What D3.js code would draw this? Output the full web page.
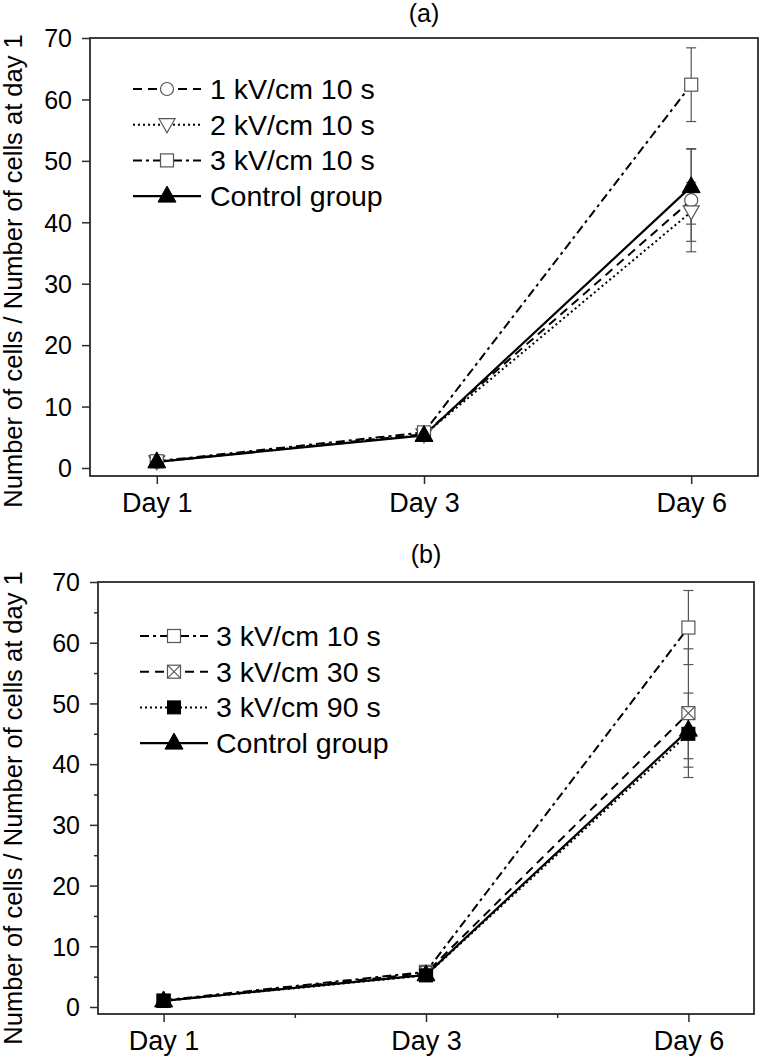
<!DOCTYPE html>
<html><head><meta charset="utf-8">
<script src="https://cdn.jsdelivr.net/npm/d3@7"></script>
<style>body{margin:0;background:#fff}svg{display:block;font-family:"Liberation Sans",Arial,sans-serif}</style>
</head><body>
<svg id="c" width="761" height="1058"></svg>
<script>
// ---- data ----
const days = ["Day 1", "Day 3", "Day 6"];
const yTicks = [0, 10, 20, 30, 40, 50, 60, 70];

// Panel (a)
const aNames = ["1 kV/cm 10 s", "2 kV/cm 10 s", "3 kV/cm 10 s", "Control group"];
const a1kV10 = [1.0, 5.5, 43.6];
const a1kV10Err = [0.3, 0.8, 8.4];
const a2kV10 = [1.0, 5.4, 41.7];
const a2kV10Err = [0.3, 0.8, 4.8];
const a3kV10 = [1.1, 5.8, 62.4];
const a3kV10Err = [0.3, 0.9, 6.0];
const aControl = [1.0, 5.3, 45.8];
const aControlErr = [0.3, 0.8, 6.1];

// Panel (b)
const bNames = ["3 kV/cm 10 s", "3 kV/cm 30 s", "3 kV/cm 90 s", "Control group"];
const b3kV10 = [1.1, 5.8, 62.5];
const b3kV10Err = [0.3, 0.9, 6.1];
const b3kV30 = [1.0, 5.6, 48.4];
const b3kV30Err = [0.3, 0.8, 10.6];
const b3kV90 = [1.0, 5.2, 45.0];
const b3kV90Err = [0.3, 0.8, 4.1];
const bControl = [1.0, 5.3, 45.6];
const bControlErr = [0.3, 0.8, 6.1];

const svg = d3.select("#c");
const AX = "#2b2b2b";

function markerPath(g, type, x, y) {
  const s = 13;
  if (type === "circle") {
    g.append("circle").attr("cx", x).attr("cy", y).attr("r", 6.5)
      .attr("fill", "#fff").attr("stroke", "#555").attr("stroke-width", 1.2);
  } else if (type === "down") {
    g.append("path").attr("d", `M${x-8},${y-6}L${x+8},${y-6}L${x},${y+8}Z`)
      .attr("fill", "#fff").attr("stroke", "#555").attr("stroke-width", 1.2);
  } else if (type === "square") {
    g.append("rect").attr("x", x-s/2).attr("y", y-s/2).attr("width", s).attr("height", s)
      .attr("fill", "#fff").attr("stroke", "#555").attr("stroke-width", 1.2);
  } else if (type === "xsquare") {
    g.append("rect").attr("x", x-s/2).attr("y", y-s/2).attr("width", s).attr("height", s)
      .attr("fill", "#fff").attr("stroke", "#555").attr("stroke-width", 1.2);
    g.append("path").attr("d", `M${x-s/2},${y-s/2}L${x+s/2},${y+s/2}M${x+s/2},${y-s/2}L${x-s/2},${y+s/2}`)
      .attr("stroke", "#555").attr("stroke-width", 1.1);
  } else if (type === "fsquare") {
    g.append("rect").attr("x", x-s/2).attr("y", y-s/2).attr("width", s).attr("height", s)
      .attr("fill", "#000").attr("stroke", "#000");
  } else if (type === "tri") {
    g.append("path").attr("d", `M${x},${y-10}L${x+9},${y+6}L${x-9},${y+6}Z`)
      .attr("fill", "#000").attr("stroke", "#000");
  }
}

function panel(cfg) {
  const {L, R, T, B, y0px, title, titleY, series, legendX, legendY, minor, ylabCY, tickLabelX, dayY, legTextX} = cfg;
  const x = d3.scaleLinear().domain([0.75, 3.25]).range([L, R]);
  const pxPerUnit = (y0px - T) / 70;
  const yMin = -(B - y0px) / pxPerUnit;
  const y = d3.scaleLinear().domain([yMin, 70]).range([B, T]);
  const g = svg.append("g");

  g.append("text").attr("x", (L + R) / 2 + 0).attr("y", titleY).attr("text-anchor", "middle")
    .attr("font-size", 25).text(title);

  // axes
  const yAxis = d3.axisLeft(y).tickValues(yTicks).tickSize(8).tickPadding(6).tickFormat(d3.format("d"));
  const ya = g.append("g").attr("transform", `translate(${L},0)`).call(yAxis);
  ya.select(".domain").remove();
  ya.selectAll("line").attr("stroke", AX).attr("stroke-width", 1.5);
  ya.selectAll("text").attr("font-size", 25).attr("fill", "#000").attr("x", tickLabelX - L).attr("dy", "0.35em");
  ya.attr("font-family", null);

  const xAxis = d3.axisBottom(x).tickValues([1, 2, 3]).tickSize(8).tickPadding(8).tickFormat((d, i) => days[i]);
  const xa = g.append("g").attr("transform", `translate(0,${B})`).call(xAxis);
  xa.select(".domain").remove();
  xa.selectAll("line").attr("stroke", AX).attr("stroke-width", 1.5);
  xa.selectAll("text").attr("font-size", 27).attr("fill", "#000").attr("y", dayY - B).attr("dy", 0);
  xa.attr("font-family", null);

  if (minor) {
    const ym = g.append("g").attr("transform", `translate(${L},0)`)
      .call(d3.axisLeft(y).tickValues([5, 15, 25, 35, 45, 55, 65]).tickSize(4).tickFormat(""));
    ym.select(".domain").remove();
    ym.selectAll("line").attr("stroke", AX).attr("stroke-width", 1.5);
    const xm = g.append("g").attr("transform", `translate(0,${B})`)
      .call(d3.axisBottom(x).tickValues([1.5, 2.5]).tickSize(4).tickFormat(""));
    xm.select(".domain").remove();
    xm.selectAll("line").attr("stroke", AX).attr("stroke-width", 1.5);
  }

  g.append("rect").attr("x", L).attr("y", T).attr("width", R - L).attr("height", B - T)
    .attr("fill", "none").attr("stroke", AX).attr("stroke-width", 1.8);

  // y label
  g.append("text").attr("transform", `translate(22,${ylabCY}) rotate(-90)`)
    .attr("text-anchor", "middle").attr("font-size", 25.5)
    .text("Number of cells / Number of cells at day 1");

  const xi = i => x(i + 1);
  // error bars
  series.forEach(s => {
    s.v.forEach((v, i) => {
      const e = s.e[i], cx = xi(i);
      g.append("line").attr("x1", cx).attr("x2", cx).attr("y1", y(v - e)).attr("y2", y(v + e))
        .attr("stroke", "#555").attr("stroke-width", 1.2);
      [v - e, v + e].forEach(t => g.append("line").attr("x1", cx - 5).attr("x2", cx + 5)
        .attr("y1", y(t)).attr("y2", y(t)).attr("stroke", "#555").attr("stroke-width", 1.2));
    });
  });
  // lines
  const line = d3.line().x((d, i) => xi(i)).y(d => y(d));
  series.forEach(s => {
    g.append("path").attr("d", line(s.v)).attr("fill", "none").attr("stroke", "#000")
      .attr("stroke-width", s.w).attr("stroke-dasharray", s.dash);
  });
  // markers
  series.forEach(s => {
    s.v.forEach((v, i) => markerPath(g, s.m, xi(i), y(v)));
  });

  // legend
  series.forEach((s, k) => {
    const ly = legendY + k * 35.7;
    g.append("line").attr("x1", legendX).attr("x2", legendX + 68).attr("y1", ly).attr("y2", ly)
      .attr("stroke", "#000").attr("stroke-width", s.w).attr("stroke-dasharray", s.dash);
    markerPath(g.append("g"), s.m, legendX + 34, ly);
    g.append("text").attr("x", legTextX).attr("y", ly).attr("dy", "0.35em")
      .attr("font-size", 28.5).text(s.name);
  });
}

panel({
  L: 90, R: 758, T: 38, B: 476, y0px: 468, title: "(a)", titleY: 22, minor: false,
  ylabCY: 271, tickLabelX: 72, dayY: 512, legendX: 133, legendY: 89, legTextX: 210,
  series: [
    {name: aNames[0], v: a1kV10, e: a1kV10Err, m: "circle", dash: "9,6", w: 2},
    {name: aNames[1], v: a2kV10, e: a2kV10Err, m: "down", dash: "2,3", w: 2},
    {name: aNames[2], v: a3kV10, e: a3kV10Err, m: "square", dash: "9,4,3,4", w: 2},
    {name: aNames[3], v: aControl, e: aControlErr, m: "tri", dash: null, w: 2.2}
  ]
});

panel({
  L: 98, R: 754, T: 582, B: 1014, y0px: 1007, title: "(b)", titleY: 563, minor: true,
  ylabCY: 808, tickLabelX: 80, dayY: 1050, legendX: 140, legendY: 636, legTextX: 216,
  series: [
    {name: bNames[0], v: b3kV10, e: b3kV10Err, m: "square", dash: "9,4,3,4", w: 2},
    {name: bNames[1], v: b3kV30, e: b3kV30Err, m: "xsquare", dash: "9,6", w: 2},
    {name: bNames[2], v: b3kV90, e: b3kV90Err, m: "fsquare", dash: "2,3", w: 2},
    {name: bNames[3], v: bControl, e: bControlErr, m: "tri", dash: null, w: 2.2}
  ]
});
</script>
</body></html>
